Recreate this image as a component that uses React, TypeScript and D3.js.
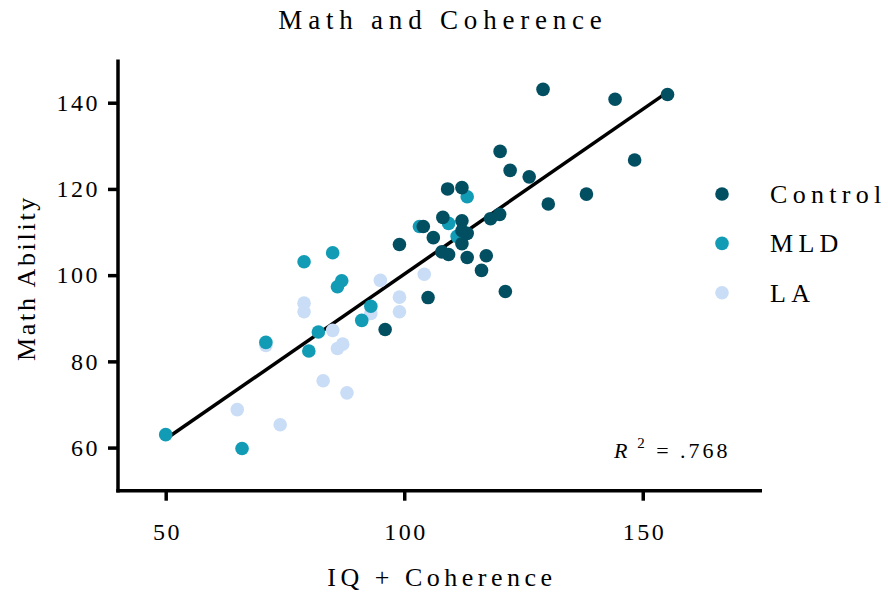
import { useEffect, useRef } from 'react';
import * as d3 from 'd3';

// values: [IQ + Coherence, Math Ability]
const controlPts: [number, number][] = [
  [129.1, 143.1], [144.2, 140.8], [155.2, 141.9], [148.3, 126.7], [120.1, 128.7],
  [122.2, 124.3], [126.2, 122.8], [138.2, 118.8], [130.2, 116.5], [109.1, 120.0],
  [112.1, 120.3], [120.0, 114.1], [118.1, 113.1], [108.1, 113.4], [104.0, 111.3],
  [112.1, 112.6], [112.1, 110.3], [113.2, 109.7], [106.1, 108.7], [99.0, 107.1],
  [112.1, 107.3], [107.9, 105.4], [109.3, 104.8], [113.2, 104.1], [117.2, 104.5],
  [116.2, 101.1], [121.2, 96.2], [105.0, 94.8], [96.0, 87.4],
];
const mldPts: [number, number][] = [
  [113.2, 118.2], [109.3, 112.0], [103.2, 111.3], [111.1, 109.0], [85.0, 105.2],
  [79.0, 103.1], [86.9, 98.7], [86.0, 97.3], [93.0, 92.8], [91.1, 89.5],
  [82.0, 86.8], [71.0, 84.4], [80.0, 82.4], [50.0, 63.0], [66.0, 59.8],
];
const laPts: [number, number][] = [
  [104.2, 100.2], [95.0, 98.8], [99.0, 94.9], [99.0, 91.5], [79.0, 93.5],
  [79.0, 91.5], [93.0, 91.1], [85.0, 87.2], [87.1, 84.0], [86.0, 83.0],
  [71.0, 83.7], [83.0, 75.5], [88.0, 72.7], [65.0, 68.8], [74.0, 65.3],
];

const groupNames = ['Control', 'MLD', 'LA'];
const groupColors = ['#034f62', '#129bb4', '#c9ddf6'];
const xTicks = [50, 100, 150];
const yTicks = [60, 80, 100, 120, 140];
const r2Label = '.768';

export default function App() {
  const svgRef = useRef<SVGSVGElement>(null);
  const width = 888;
  const height = 596;

  useEffect(() => {
    if (!svgRef.current) return;
    const svg = d3.select(svgRef.current);
    svg.selectAll('*').remove();

    const font = '"Liberation Serif", "Times New Roman", serif';
    const x = d3.scaleLinear().domain([40, 175]).range([118, 762]);
    const y = d3.scaleLinear().domain([50, 150]).range([490.7, 59.6]);

    // title
    svg.append('text')
      .attr('x', 443).attr('y', 29)
      .attr('text-anchor', 'middle')
      .style('font-family', font).style('font-size', '27px')
      .style('letter-spacing', '5.8px')
      .text('Math and Coherence');

    // regression line (least squares over all points)
    const all = [...controlPts, ...mldPts, ...laPts];
    const mx = d3.mean(all, d => d[0])!;
    const my = d3.mean(all, d => d[1])!;
    const sxy = d3.sum(all, d => (d[0] - mx) * (d[1] - my));
    const sxx = d3.sum(all, d => (d[0] - mx) ** 2);
    const slope = sxy / sxx;
    const icpt = my - slope * mx;
    const [x0, x1] = d3.extent(all, d => d[0]) as [number, number];
    svg.append('line')
      .attr('x1', x(x0)).attr('y1', y(icpt + slope * x0))
      .attr('x2', x(x1)).attr('y2', y(icpt + slope * x1))
      .attr('stroke', '#000').attr('stroke-width', 3.5);

    // dots: LA under MLD under Control
    const groups = [controlPts, mldPts, laPts];
    [2, 1, 0].forEach(gi => {
      svg.append('g').selectAll('circle')
        .data(groups[gi]).join('circle')
        .attr('cx', d => x(d[0])).attr('cy', d => y(d[1]))
        .attr('r', 6.8).attr('fill', groupColors[gi]);
    });

    // axes
    const xAxis = svg.append('g').attr('transform', 'translate(0,490.7)')
      .call(d3.axisBottom(x).tickValues(xTicks).tickSize(10).tickPadding(22).tickSizeOuter(0));
    const yAxis = svg.append('g').attr('transform', 'translate(118,0)')
      .call(d3.axisLeft(y).tickValues(yTicks).tickSize(10).tickPadding(8).tickSizeOuter(0));
    [xAxis, yAxis].forEach(a => {
      a.select('.domain').attr('stroke', '#000').attr('stroke-width', 3.5);
      a.selectAll('.tick line').attr('stroke', '#000').attr('stroke-width', 3.5);
      a.selectAll('.tick text')
        .style('font-family', font).style('font-size', '24px')
        .style('letter-spacing', '2.5px').attr('fill', '#000');
    });
    xAxis.selectAll('.tick text').attr('dx', '1.25px');
    // extend domain lines to meet at the corner
    xAxis.select('.domain').attr('d', `M${118 - 1.75},0H${x(175)}`);
    yAxis.select('.domain').attr('d', `M0,${y(150)}V${490.7 + 1.75}`);

    // axis titles
    svg.append('text')
      .attr('x', 442).attr('y', 586)
      .attr('text-anchor', 'middle')
      .style('font-family', font).style('font-size', '26px')
      .style('letter-spacing', '4.5px')
      .text('IQ + Coherence');
    svg.append('text')
      .attr('transform', 'translate(35,278) rotate(-90)')
      .attr('text-anchor', 'middle')
      .style('font-family', font).style('font-size', '26px')
      .style('letter-spacing', '2.7px')
      .text('Math Ability');

    // legend
    groupNames.forEach((name, i) => {
      const ly = 194 + i * 49.4;
      svg.append('circle').attr('cx', 722).attr('cy', ly).attr('r', 6.8).attr('fill', groupColors[i]);
      svg.append('text')
        .attr('x', 770).attr('y', ly + 9)
        .style('font-family', font).style('font-size', '26px')
        .style('letter-spacing', '5.3px')
        .text(name);
    });

    // R squared
    const r2 = svg.append('text')
      .attr('x', 614).attr('y', 458)
      .style('font-family', font).style('font-size', '22px')
      .style('letter-spacing', '3px');
    r2.append('tspan').style('font-style', 'italic').text('R');
    r2.append('tspan').attr('dy', -10).style('font-size', '15px').text(' 2');
    r2.append('tspan').attr('dy', 10).text(` = ${r2Label}`);
  }, []);

  return (
    <svg
      ref={svgRef}
      width={width}
      height={height}
      viewBox={`0 0 ${width} ${height}`}
      style={{ position: 'absolute', left: 0, top: 0, background: '#fff' }}
    />
  );
}
